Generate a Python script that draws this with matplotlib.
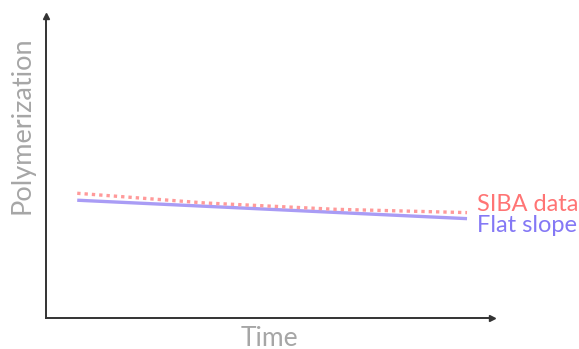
import numpy as np
import matplotlib.pyplot as plt

# (arbitrary units, axis 0..10)
time_pts = np.array([0.70, 3.56, 6.48, 9.44])
siba_data = np.array([4.13, 3.81, 3.60, 3.49])
flat_time = np.array([0.70, 9.44])
flat_slope = np.array([3.90, 3.29])

series_labels = ["SIBA data", "Flat slope"]
x_label = "Time"
y_label = "Polymerization"

plt.rcParams['font.family'] = ['Lato', 'DejaVu Sans']

fig = plt.figure(figsize=(5.79, 3.49), dpi=100)
W, H = 579, 349
ax = fig.add_axes([46 / W, (H - 318) / H, (492 - 46) / W, (318 - 16) / H])
ax.set_xlim(0, 10)
ax.set_ylim(0, 10)

ax.plot(flat_time, flat_slope, color='#a99cf5', lw=2.4, solid_capstyle='butt')
ax.plot(time_pts, siba_data, color='#ff9a9a', lw=2.4, linestyle=(0, (1, 1.2)))

ax.text(9.66, 3.55, series_labels[0], color='#ff7474', fontsize=17, va='baseline')
ax.text(9.66, 2.85, series_labels[1], color='#8478f5', fontsize=17, va='baseline')

for s in ['top', 'right']:
    ax.spines[s].set_visible(False)
for s in ['left', 'bottom']:
    ax.spines[s].set_color('#333333')
    ax.spines[s].set_linewidth(1.4)
ax.set_xticks([])
ax.set_yticks([])

# arrow heads
ax.plot(1, 0, '>', color='#333333', ms=5, transform=ax.transAxes, clip_on=False)
ax.plot(0, 1, '^', color='#333333', ms=5, transform=ax.transAxes, clip_on=False)

# axis titles placed by hand
fig.text(22 / W, (H - 125) / H, y_label, color='#a6a6a6', fontsize=19.5,
         rotation=90, ha='center', va='center')
fig.text(269 / W, (H - 338) / H, x_label, color='#a6a6a6', fontsize=19,
         ha='center', va='center')

fig.savefig('out.png', dpi=100)
